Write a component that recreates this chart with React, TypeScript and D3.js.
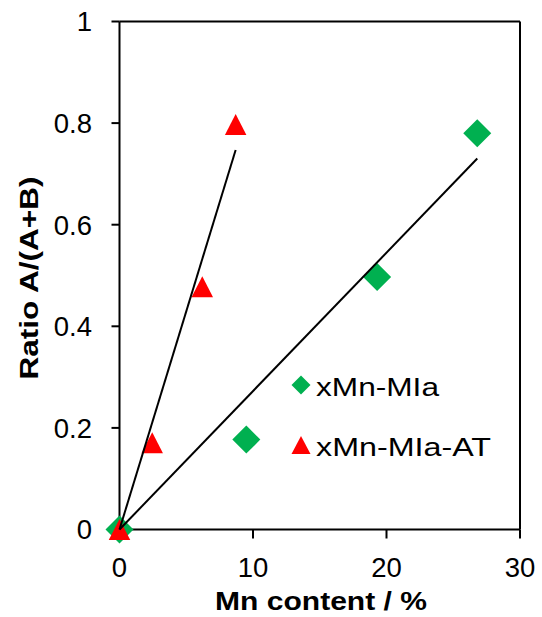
import React from "react";
import * as d3 from "d3";

const seriesNames = ["xMn-MIa", "xMn-MIa-AT"];
const mnaX = [0, 9.5, 19.3, 26.8];
const mnaY = [0, 0.177, 0.497, 0.78];
const mnatX = [0, 2.45, 6.2, 8.7];
const mnatY = [0, 0.171, 0.478, 0.797];
const xTicks = [0, 10, 20, 30];
const yTicks = [0, 0.2, 0.4, 0.6, 0.8, 1];
const xTitle = "Mn content / %";
const yTitle = "Ratio A/(A+B)";

const W = 542;
const H = 617;
const FONT = "'Liberation Sans', Arial, sans-serif";

function slopeThroughOrigin(xs: number[], ys: number[]) {
  const sxy = d3.sum(xs, (x, i) => x * ys[i]);
  const sxx = d3.sum(xs, (x) => x * x);
  return sxy / sxx;
}

export default function App() {
  const x = d3.scaleLinear().domain([0, 30]).range([119.5, 520]);
  const y = d3.scaleLinear().domain([0, 1]).range([529.5, 21.5]);

  const diamond = (cx: number, cy: number, r: number) =>
    `M${cx},${cy - r}L${cx + r},${cy}L${cx},${cy + r}L${cx - r},${cy}Z`;
  const triangle = (cx: number, cy: number, w: number, h: number) =>
    `M${cx},${cy - h / 2}L${cx + w / 2},${cy + h / 2}L${cx - w / 2},${cy + h / 2}Z`;

  const line = d3
    .line<[number, number]>()
    .x((d) => x(d[0]))
    .y((d) => y(d[1]));

  const s1 = slopeThroughOrigin(mnaX, mnaY);
  const s2 = slopeThroughOrigin(mnatX, mnatY);
  const max1 = d3.max(mnaX) as number;
  const max2 = d3.max(mnatX) as number;

  return (
    <svg
      width={W}
      height={H}
      style={{ position: "absolute", left: 0, top: 0, background: "#fff" }}
      fontFamily={FONT}
    >
      {/* plot border top & right */}
      <line x1={x(0)} x2={x(30)} y1={y(1)} y2={y(1)} stroke="#000" strokeWidth={2} />
      <line x1={x(30)} x2={x(30)} y1={y(1)} y2={y(0)} stroke="#000" strokeWidth={2} />
      {/* axes */}
      <line x1={x(0)} x2={x(0)} y1={y(1)} y2={y(0)} stroke="#000" strokeWidth={2} />
      <line x1={x(0)} x2={x(30)} y1={y(0)} y2={y(0)} stroke="#000" strokeWidth={2} />
      {yTicks.map((t) => (
        <g key={"y" + t}>
          <line x1={x(0) - 8} x2={x(0)} y1={y(t)} y2={y(t)} stroke="#000" strokeWidth={2} />
          <text x={92} y={y(t)} dy="0.36em" textAnchor="end" fontSize={27.5} fill="#000">
            {String(t)}
          </text>
        </g>
      ))}
      {xTicks.map((t) => (
        <g key={"x" + t}>
          <line x1={x(t)} x2={x(t)} y1={y(0)} y2={y(0) + 9} stroke="#000" strokeWidth={2} />
          <text x={x(t)} y={577} textAnchor="middle" fontSize={27.5} fill="#000">
            {String(t)}
          </text>
        </g>
      ))}

      {/* markers */}
      {mnaX.map((v, i) => (
        <path key={"d" + i} d={diamond(x(v), y(mnaY[i]), 14)} fill="#00B050" />
      ))}
      {mnatX.map((v, i) => (
        <path key={"t" + i} d={triangle(x(v), y(mnatY[i]), 21.5, 21)} fill="#FF0000" />
      ))}

      {/* trendlines */}
      <path d={line([[0, 0], [max1, s1 * max1]]) as string} stroke="#000" strokeWidth={2} fill="none" />
      <path d={line([[0, 0], [max2, s2 * max2]]) as string} stroke="#000" strokeWidth={2} fill="none" />

      {/* legend */}
      <path d={diamond(301, 385, 9.5)} fill="#00B050" />
      <text x={316} y={396} fontSize={25} textLength={123} lengthAdjust="spacingAndGlyphs" fill="#000">
        {seriesNames[0]}
      </text>
      <path d={triangle(301, 445, 19, 18)} fill="#FF0000" />
      <text x={316} y={456} fontSize={25} textLength={175} lengthAdjust="spacingAndGlyphs" fill="#000">
        {seriesNames[1]}
      </text>

      {/* axis titles */}
      <text
        x={321}
        y={610}
        textAnchor="middle"
        fontSize={26}
        fontWeight="bold"
        textLength={212}
        lengthAdjust="spacingAndGlyphs"
        fill="#000"
      >
        {xTitle}
      </text>
      <text
        transform="translate(38,278) rotate(-90)"
        textAnchor="middle"
        fontSize={26}
        fontWeight="bold"
        textLength={203}
        lengthAdjust="spacingAndGlyphs"
        fill="#000"
      >
        {yTitle}
      </text>
    </svg>
  );
}
